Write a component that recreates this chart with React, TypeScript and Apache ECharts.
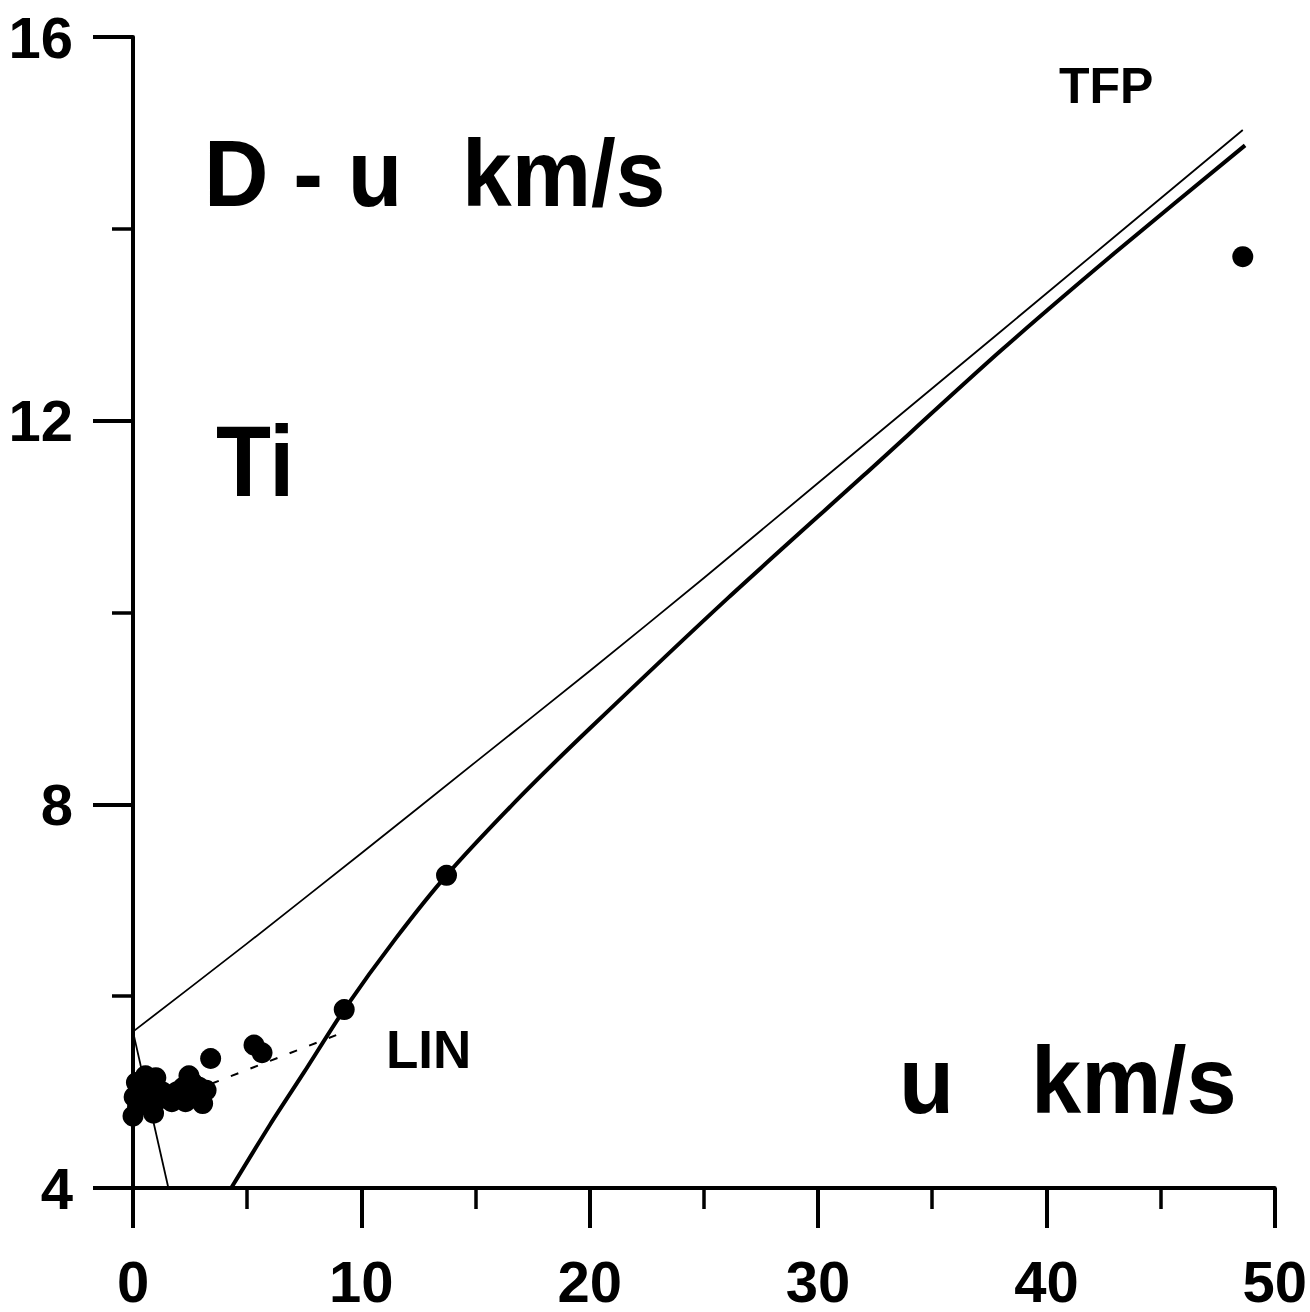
import React, { useEffect, useRef } from "react";
import * as echarts from "echarts";

// Axis definitions
const xTickValues = [0, 10, 20, 30, 40, 50];
const yTickValues = [4, 8, 12, 16];

// Thin curve (TFP model), u vs D
const tfpCurve: [number, number][] = [
  [0, 5.63], [5, 6.55], [10, 7.49], [15, 8.44], [20, 9.39],
  [25, 10.36], [30, 11.35], [38, 12.93], [48.6, 15.03],
];
// Thin steep branch near the origin
const tfpLowBranch: [number, number][] = [
  [0, 5.63], [1.55, 4.0],
];
// Thick curve
const eosCurve: [number, number][] = [
  [4.3, 4.0], [6.0, 4.66], [7.5, 5.21], [9.25, 5.86], [11.5, 6.6],
  [13.73, 7.26], [17.0, 8.09], [20.0, 8.79], [26.05, 10.15], [32.0, 11.43],
  [37.96, 12.72], [43.0, 13.75], [48.7, 14.87],
];
// Dashed linear fit (LIN)
const linFit: [number, number][] = [
  [0, 4.77], [9.4, 5.64],
];
// Experimental points
const experimentPoints: [number, number][] = [
  [0, 4.75], [0.05, 4.95], [0.15, 5.1], [0.2, 4.85], [0.3, 5.02],
  [0.4, 4.9], [0.55, 5.17], [0.7, 5.05], [0.8, 5.1], [0.9, 4.78],
  [1.0, 5.15], [1.1, 4.92], [1.3, 5.0], [1.5, 4.95], [1.7, 4.9],
  [1.9, 5.0], [2.0, 4.95], [2.2, 5.05], [2.3, 4.9], [2.45, 5.17],
  [2.6, 5.1], [2.8, 4.95], [2.9, 5.05], [3.05, 4.88], [3.2, 5.02],
  [3.4, 5.35], [5.3, 5.49], [5.65, 5.41], [9.25, 5.86], [13.73, 7.26],
  [48.6, 13.71],
];

const FONT = "Liberation Sans, Arial, sans-serif";

export default function App() {
  const ref = useRef<HTMLDivElement>(null);
  useEffect(() => {
    document.body.style.margin = "0";
    const chart = echarts.init(ref.current!, null, { renderer: "svg" });
    const axisCommon = {
      type: "value",
      splitLine: { show: false },
      minorSplitLine: { show: false },
      axisLine: { show: true, onZero: false, lineStyle: { color: "#000", width: 4 } },
      axisTick: { show: true, length: 40, lineStyle: { color: "#000", width: 4 } },
      minorTick: { show: true, splitNumber: 2, length: 21, lineStyle: { color: "#000", width: 3.5 } },
    };
    const label = (text: string, x: number, y: number, size: number, sx = 1) => ({
      type: "text",
      x,
      y,
      scaleX: sx,
      style: {
        text,
        fill: "#000",
        font: `bold ${size}px ${FONT}`,
        align: "left",
        verticalAlign: "middle",
      },
    });
    chart.setOption({
      animation: false,
      backgroundColor: "#fff",
      textStyle: { fontFamily: FONT },
      grid: { left: 133, top: 37, width: 1142, height: 1151, containLabel: false },
      xAxis: {
        ...axisCommon,
        min: 0,
        max: 50,
        interval: 10,
        axisLabel: {
          fontSize: 58,
          fontWeight: "bold",
          color: "#000",
          fontFamily: FONT,
          margin: 64,
          formatter: (v: number) => (xTickValues.includes(v) ? String(v) : ""),
        },
      },
      yAxis: {
        ...axisCommon,
        min: 4,
        max: 16,
        interval: 4,
        axisLabel: {
          fontSize: 58,
          fontWeight: "bold",
          color: "#000",
          fontFamily: FONT,
          margin: 60,
          formatter: (v: number) => (yTickValues.includes(v) ? String(v) : ""),
        },
      },
      series: [
        {
          type: "line",
          data: tfpCurve,
          symbol: "none",
          smooth: 0.2,
          lineStyle: { color: "#000", width: 1.8, join: "round" },
          z: 2,
        },
        {
          type: "line",
          data: tfpLowBranch,
          symbol: "none",
          lineStyle: { color: "#000", width: 1.8 },
          z: 2,
        },
        {
          type: "line",
          data: eosCurve,
          symbol: "none",
          smooth: 0.25,
          lineStyle: { color: "#000", width: 4, join: "round" },
          z: 3,
        },
        {
          type: "line",
          data: linFit,
          symbol: "none",
          lineStyle: { color: "#000", width: 2, type: [8, 13] },
          z: 2,
        },
        {
          type: "scatter",
          data: experimentPoints,
          symbol: "circle",
          symbolSize: 21,
          itemStyle: { color: "#000", opacity: 1 },
          z: 5,
        },
      ],
      graphic: [
        label("D - u", 204, 174, 95, 0.94),
        label("km/s", 462, 174, 95, 0.94),
        label("Ti", 216, 461, 100, 0.9),
        label("u", 899, 1080, 95, 0.95),
        label("km/s", 1031, 1080, 95, 0.95),
        label("TFP", 1059, 86, 50),
        label("LIN", 386, 1049, 53),
      ],
    });
    return () => chart.dispose();
  }, []);
  return <div ref={ref} style={{ width: 1310, height: 1312, background: "#fff" }} />;
}
